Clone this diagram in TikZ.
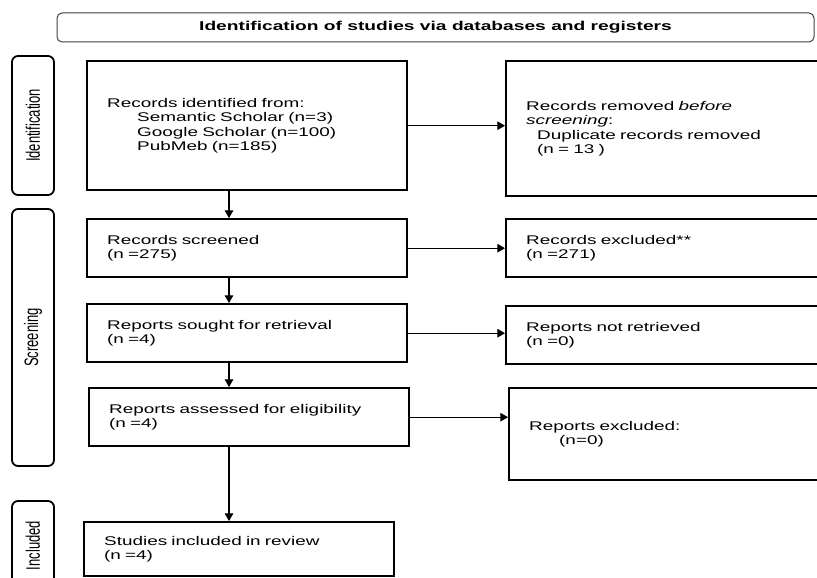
\documentclass[tikz,border=0pt]{standalone}
\usepackage{fontspec}
\usepackage{graphicx}
\setmainfont[FakeStretch=1.5]{Liberation Sans}
\newfontfamily\labfont{Liberation Sans}
\usetikzlibrary{arrows}

\newcommand{\phasetext}[1]{\scalebox{1}[1.5]{\labfont\fontsize{13}{15}\selectfont #1}}

\tikzset{
  stagebox/.style={draw, line width=2.4pt, anchor=north west, align=left, inner xsep=20pt,
    font=\fontsize{12.6}{14.2}\selectfont},
  phasebox/.style={draw, line width=1.8pt, rounded corners=6pt, rotate=90, minimum height=42pt},
  arr/.style={-triangle 60, line width=1.1pt}
}

\begin{document}
\begin{tikzpicture}[x=1pt,y=-1pt]

\useasboundingbox (0,0) rectangle (817,578);

\node (head) [draw=black!75, line width=1pt, rounded corners=5pt, minimum width=757pt, minimum height=29pt,
  font=\fontsize{12.8}{15}\selectfont\bfseries] at (435.5,27.5) {Identification of studies via databases and registers};

\node (identlab) [phasebox, minimum width=139pt] at (33,125.5) {\phasetext{Identification}};
\node (screenlab) [phasebox, minimum width=257pt] at (33,337.5) {\phasetext{Screening}};
\node (incllab) [phasebox, minimum width=89pt] at (33,545.5) {\phasetext{Included}};

\node (found) [stagebox, minimum width=320pt, minimum height=129pt, text width=280pt] at (86,60)
  {Records identified from:\\ \hspace*{30pt}Semantic Scholar (n=3)\\ \hspace*{30pt}Google Scholar (n=100)\\ \hspace*{30pt}PubMeb (n=185)\\[4pt]};
\node (screened) [stagebox, minimum width=320pt, minimum height=58pt, text width=280pt] at (86,218)
  {Records screened\\ (n =275)};
\node (sought) [stagebox, minimum width=320pt, minimum height=58pt, text width=280pt] at (86,303)
  {Reports sought for retrieval\\ (n =4)};
\node (assessed) [stagebox, minimum width=320pt, minimum height=58pt, text width=280pt] at (88,387)
  {Reports assessed for eligibility\\ (n =4)};
\node (included) [stagebox, minimum width=310pt, minimum height=54pt, text width=270pt] at (83,521)
  {Studies included in review\\ (n =4)};

\node (removed) [stagebox, minimum width=330pt, minimum height=135pt, text width=290pt] at (505,60)
  {Records removed \textit{before}\\ \textit{screening}:\\ \hspace*{11pt}Duplicate records removed\\ \hspace*{11pt}(n = 13 )};
\node (excluded) [stagebox, minimum width=330pt, minimum height=58pt, text width=290pt] at (505,218)
  {Records excluded**\\ (n =271)};
\node (notretr) [stagebox, minimum width=330pt, minimum height=58pt, text width=290pt] at (505,305)
  {Reports not retrieved\\ (n =0)};
\node (repexcl) [stagebox, minimum width=330pt, minimum height=92pt, text width=290pt] at (508,387)
  {Reports excluded:\\ \hspace*{30pt}(n=0)};

\coordinate (arrx) at (229,0);

\draw [arr] (found.east) -- (found.east -| removed.west);
\draw [arr] (screened.east) -- (screened.east -| excluded.west);
\draw [arr] (sought.east) -- (sought.east -| notretr.west);
\draw [arr] (assessed.east) -- (assessed.east -| repexcl.west);

\draw [arr] (found.south -| arrx) -- (screened.north -| arrx);
\draw [arr] (screened.south -| arrx) -- (sought.north -| arrx);
\draw [arr] (sought.south -| arrx) -- (assessed.north -| arrx);
\draw [arr] (assessed.south -| arrx) -- (included.north -| arrx);
\end{tikzpicture}
\end{document}
